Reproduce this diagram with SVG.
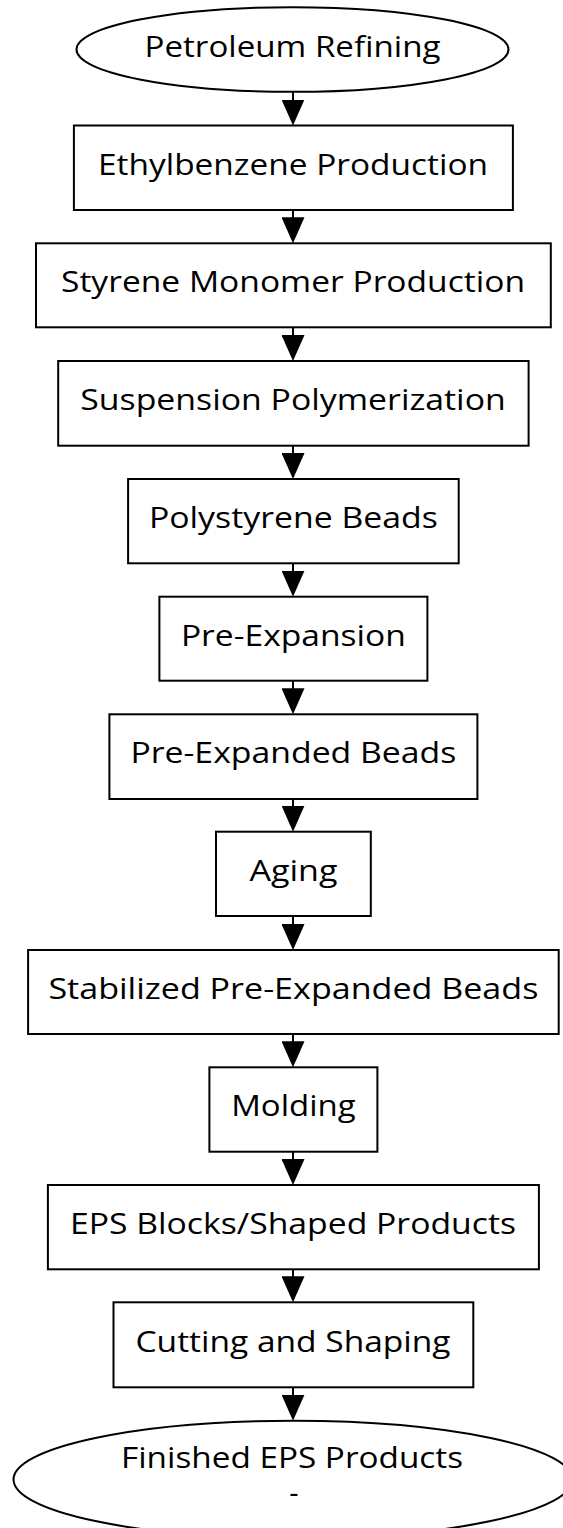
<svg xmlns="http://www.w3.org/2000/svg" width="563" height="1528" viewBox="0 0 563 1528">
<style>
.shape{fill:#ffffff;stroke:#000000;stroke-width:2}
.lbl{font-family:"Open Sans","Noto Sans","DejaVu Sans",sans-serif;font-size:29px;fill:#000000;text-anchor:middle}
.edge{stroke:#000000;stroke-width:2;fill:none}
</style>
<defs>
<marker id="arr" viewBox="0 0 26 23" refX="23" refY="11.5" markerWidth="26" markerHeight="23" markerUnits="userSpaceOnUse" orient="auto">
<path d="M0,0 L26,11.5 L0,23 Z" fill="#000000"/>
</marker>
</defs>
<rect x="0" y="0" width="563" height="1528" fill="#ffffff"/>
<g id="connectors">
<line class="edge" x1="293" y1="92.5" x2="293" y2="122.5" marker-end="url(#arr)"/>
<line class="edge" x1="293" y1="210" x2="293" y2="240.3" marker-end="url(#arr)"/>
<line class="edge" x1="293" y1="327.3" x2="293" y2="358" marker-end="url(#arr)"/>
<line class="edge" x1="293" y1="445.7" x2="293" y2="476" marker-end="url(#arr)"/>
<line class="edge" x1="293" y1="563.3" x2="293" y2="593.7" marker-end="url(#arr)"/>
<line class="edge" x1="293" y1="680.7" x2="293" y2="711.3" marker-end="url(#arr)"/>
<line class="edge" x1="293" y1="799" x2="293" y2="828.7" marker-end="url(#arr)"/>
<line class="edge" x1="293" y1="916" x2="293" y2="947" marker-end="url(#arr)"/>
<line class="edge" x1="293" y1="1034" x2="293" y2="1064.3" marker-end="url(#arr)"/>
<line class="edge" x1="293" y1="1151.7" x2="293" y2="1182" marker-end="url(#arr)"/>
<line class="edge" x1="293" y1="1269.3" x2="293" y2="1299.3" marker-end="url(#arr)"/>
<line class="edge" x1="293" y1="1387.3" x2="293" y2="1417.7" marker-end="url(#arr)"/>
</g>
<g id="n0"><ellipse class="shape" cx="292.5" cy="49.5" rx="216" ry="42.3"/><text class="lbl" x="292.5" y="57" textLength="296" lengthAdjust="spacingAndGlyphs">Petroleum Refining</text></g>
<g id="n1"><rect class="shape" x="73.9" y="125.5" width="439" height="84.5"/><text class="lbl" x="293" y="174.6" textLength="390" lengthAdjust="spacingAndGlyphs">Ethylbenzene Production</text></g>
<g id="n2"><rect class="shape" x="36" y="243.3" width="514.8" height="84"/><text class="lbl" x="293" y="292.1" textLength="464" lengthAdjust="spacingAndGlyphs">Styrene Monomer Production</text></g>
<g id="n3"><rect class="shape" x="58.2" y="361" width="470.4" height="84.7"/><text class="lbl" x="293" y="410.1" textLength="425.5" lengthAdjust="spacingAndGlyphs">Suspension Polymerization</text></g>
<g id="n4"><rect class="shape" x="128.1" y="479" width="330.6" height="84.3"/><text class="lbl" x="293.4" y="528" textLength="289" lengthAdjust="spacingAndGlyphs">Polystyrene Beads</text></g>
<g id="n5"><rect class="shape" x="159.4" y="596.7" width="268" height="84"/><text class="lbl" x="293.4" y="645.5" textLength="225" lengthAdjust="spacingAndGlyphs">Pre-Expansion</text></g>
<g id="n6"><rect class="shape" x="109.4" y="714.3" width="368" height="84.7"/><text class="lbl" x="293.4" y="763.4" textLength="326" lengthAdjust="spacingAndGlyphs">Pre-Expanded Beads</text></g>
<g id="n7"><rect class="shape" x="216" y="831.7" width="154.8" height="84.3"/><text class="lbl" x="293.4" y="880.7" textLength="88" lengthAdjust="spacingAndGlyphs">Aging</text></g>
<g id="n8"><rect class="shape" x="28.1" y="950" width="530.6" height="84"/><text class="lbl" x="293.4" y="998.8" textLength="490" lengthAdjust="spacingAndGlyphs">Stabilized Pre-Expanded Beads</text></g>
<g id="n9"><rect class="shape" x="209.4" y="1067.3" width="168" height="84.4"/><text class="lbl" x="293.4" y="1116.3" textLength="124.4" lengthAdjust="spacingAndGlyphs">Molding</text></g>
<g id="n10"><rect class="shape" x="47.9" y="1185" width="491" height="84.3"/><text class="lbl" x="293" y="1234" textLength="446" lengthAdjust="spacingAndGlyphs">EPS Blocks/Shaped Products</text></g>
<g id="n11"><rect class="shape" x="113.5" y="1302.3" width="359.8" height="85"/><text class="lbl" x="293" y="1351.6" textLength="315" lengthAdjust="spacingAndGlyphs">Cutting and Shaping</text></g>
<g id="n12"><ellipse class="shape" cx="293" cy="1479.5" rx="279.5" ry="58.8"/><text class="lbl"><tspan x="292" y="1468.3" textLength="342" lengthAdjust="spacingAndGlyphs">Finished EPS Products</tspan><tspan x="294" y="1503">-</tspan></text></g>
</svg>
